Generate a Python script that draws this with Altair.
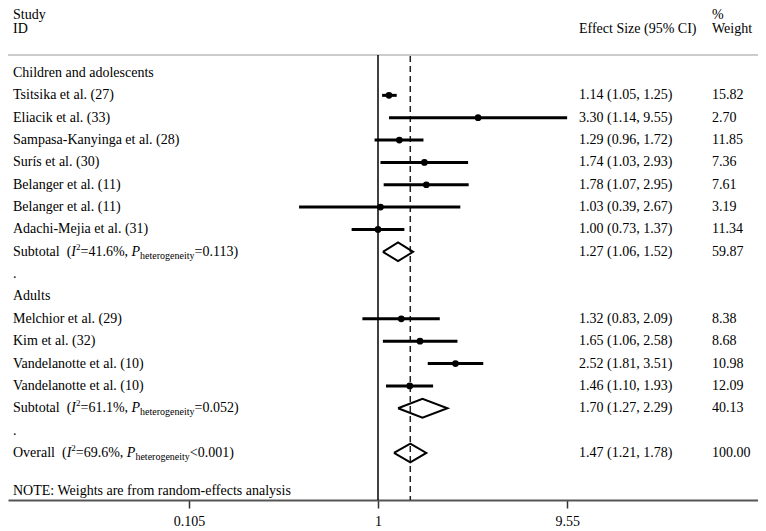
import altair as alt
import pandas as pd

# ---------------- data ----------------
study_labels = ["Tsitsika et al. (27)", "Eliacik et al. (33)", "Sampasa-Kanyinga et al. (28)",
                "Surís et al. (30)", "Belanger et al. (11)", "Belanger et al. (11)",
                "Adachi-Mejia et al. (31)", "Melchior et al. (29)", "Kim et al. (32)",
                "Vandelanotte et al. (10)", "Vandelanotte et al. (10)"]
study_rows = [1, 2, 3, 4, 5, 6, 7, 11, 12, 13, 14]
study_es = [1.14, 3.30, 1.29, 1.74, 1.78, 1.03, 1.00, 1.32, 1.65, 2.52, 1.46]
study_lcl = [1.05, 1.14, 0.96, 1.03, 1.07, 0.39, 0.73, 0.83, 1.06, 1.81, 1.10]
study_ucl = [1.25, 9.55, 1.72, 2.93, 2.95, 2.67, 1.37, 2.09, 2.58, 3.51, 1.93]
study_wt = [15.82, 2.70, 11.85, 7.36, 7.61, 3.19, 11.34, 8.38, 8.68, 10.98, 12.09]

group_labels = ["Children and adolescents", "Adults"]
group_rows = [0, 10]

pooled_names = ["Subtotal", "Subtotal", "Overall"]
pooled_rows = [8, 15, 17]
pooled_es = [1.27, 1.70, 1.47]
pooled_lcl = [1.06, 1.27, 1.21]
pooled_ucl = [1.52, 2.29, 1.78]
pooled_wt = [59.87, 40.13, 100.00]
pooled_i2 = ["41.6", "61.1", "69.6"]
pooled_psym = ["=", "=", "<"]
pooled_p = ["0.113", "0.052", "0.001"]

dot_rows = [9, 16]
tick_values = [0.105, 1, 9.55]
null_value = [1]
overall_value = [1.47]

note_text = "NOTE: Weights are from random-effects analysis"

FONT = "Liberation Serif"
W, H = 750, 492
LEFT_X = 5
ES_X = 571
WT_X = 704

# Times metrics (Liberation Serif is metric compatible)
TR = {' ': 250, '(': 333, ')': 333, '=': 564, '<': 564, '%': 833, ',': 250, '.': 250,
      'S': 556, 'O': 722, 'u': 500, 'b': 500, 't': 278, 'o': 500, 'a': 444, 'l': 278,
      'v': 500, 'e': 444, 'r': 333, 'h': 500, 'g': 500, 'n': 500, 'i': 278, 'y': 500, 'c': 444}
TI = {'I': 333, 'P': 611}


def tw(s, size, table=TR):
    return sum(table.get(ch, 500) for ch in s) * size / 1000.0


# ---------------- tables ----------------
studies = pd.DataFrame({
    "row": study_rows, "label": study_labels, "es": study_es,
    "lo": study_lcl, "hi": study_ucl,
})
studies["est_txt"] = [f"{e:.2f} ({l:.2f}, {h:.2f})" for e, l, h in zip(study_es, study_lcl, study_ucl)]
studies["wt_txt"] = [f"{w:.2f}" for w in study_wt]

pooled = pd.DataFrame({"row": pooled_rows, "es": pooled_es, "lo": pooled_lcl, "hi": pooled_ucl})
pooled["est_txt"] = [f"{e:.2f} ({l:.2f}, {h:.2f})" for e, l, h in zip(pooled_es, pooled_lcl, pooled_ucl)]
pooled["wt_txt"] = [f"{w:.2f}" for w in pooled_wt]

# diamond outlines
dia = []
for r, e, l, h in zip(pooled_rows, pooled_es, pooled_lcl, pooled_ucl):
    hh = 0.42
    pts = [(l, r), (e, r - hh), (h, r), (e, r + hh), (l, r)]
    for k, (xv, yv) in enumerate(pts):
        dia.append({"grp": r, "ord": k, "x": xv, "y": yv})
dia = pd.DataFrame(dia)

# rich-text pieces (pixel x computed from font metrics)
reg, ital, sup, sub = [], [], [], []
for r, name, i2, sym, p in zip(pooled_rows, pooled_names, pooled_i2, pooled_psym, pooled_p):
    x = LEFT_X
    reg.append({"x": x, "row": r, "text": name}); x += tw(name + "  ", 14)
    reg.append({"x": x, "row": r, "text": "("}); x += tw("(", 14)
    ital.append({"x": x, "row": r, "text": "I"}); x += tw("I", 14, TI)
    sup.append({"x": x, "row": r, "text": "2"}); x += tw("2", 9)
    s = f"={i2}%, "
    reg.append({"x": x, "row": r, "text": s.strip()}); x += tw(s, 14)
    ital.append({"x": x, "row": r, "text": "P"}); x += tw("P", 14, TI)
    sub.append({"x": x, "row": r, "text": "heterogeneity"}); x += tw("heterogeneity", 10)
    reg.append({"x": x, "row": r, "text": f"{sym}{p})"})

left_labels = pd.DataFrame({
    "row": study_rows + group_rows + dot_rows + [18.70],
    "text": study_labels + group_labels + ["."] * len(dot_rows) + [note_text],
})
headers = pd.DataFrame({
    "row": [-2.6, -1.95, -1.95, -2.6, -1.95],
    "text": ["Study", "ID", "Effect Size (95% CI)", "%", "Weight"],
    "x": [LEFT_X, LEFT_X, ES_X, WT_X, WT_X],
})

# ---------------- scales ----------------
px_per_dec = 193.0
x_one = 370.0
lo_dom = 10 ** (-x_one / px_per_dec)
hi_dom = 10 ** ((W - x_one) / px_per_dec)
xs = alt.Scale(type="log", domain=[lo_dom, hi_dom], nice=False)
ys = alt.Scale(domain=[-2.908, 19.105], reverse=True, nice=False, zero=False)

x_axis = alt.Axis(values=tick_values, format="~g", title=None, grid=False,
                  domainColor="#555555", domainWidth=2, tickColor="#333333",
                  tickWidth=1.5, tickSize=8, labelFont=FONT, labelFontSize=14,
                  labelColor="black", labelPadding=6, labelFlush=False)

ci = alt.Chart(studies).mark_rule(strokeWidth=3, color="black").encode(
    x=alt.X("lo:Q", scale=xs, axis=x_axis),
    x2="hi:Q",
    y=alt.Y("row:Q", scale=ys, axis=None),
)
points = alt.Chart(studies).mark_point(filled=True, shape="circle", size=45,
                                       color="black", opacity=1).encode(
    x=alt.X("es:Q", scale=xs), y=alt.Y("row:Q", scale=ys))

diamonds = alt.Chart(dia).mark_line(color="black", strokeWidth=2, strokeJoin="miter").encode(
    x=alt.X("x:Q", scale=xs), y=alt.Y("y:Q", scale=ys),
    order="ord:Q", detail="grp:N")

top_line = alt.Chart(pd.DataFrame({"a": [0]})).mark_rule(color="#bbbbbb", strokeWidth=1.5).encode(
    x=alt.value(0), x2=alt.value(W), y=alt.value(47))

null_line = alt.Chart(pd.DataFrame({"v": null_value})).mark_rule(color="black", strokeWidth=1.5).encode(
    x=alt.X("v:Q", scale=xs), y=alt.value(47), y2=alt.value(H))
overall_line = alt.Chart(pd.DataFrame({"v": overall_value})).mark_rule(
    color="#222222", strokeWidth=1.5, strokeDash=[6, 4]).encode(
    x=alt.X("v:Q", scale=xs), y=alt.value(48), y2=alt.value(H))


def txt(df, xenc, **kw):
    base = dict(font=FONT, fontSize=14, align="left", baseline="middle", color="black")
    base.update(kw)
    return alt.Chart(df).mark_text(**base).encode(
        x=xenc, y=alt.Y("row:Q", scale=ys), text="text:N")


xfield = alt.X("x:Q", scale=None, axis=None)

t_left = txt(left_labels, alt.value(LEFT_X))
t_head = txt(headers, xfield)
t_es = alt.Chart(pd.concat([studies, pooled])).mark_text(
    font=FONT, fontSize=14, align="left", baseline="middle", color="black").encode(
    x=alt.value(ES_X), y=alt.Y("row:Q", scale=ys), text="est_txt:N")
t_wt = alt.Chart(pd.concat([studies, pooled])).mark_text(
    font=FONT, fontSize=14, align="left", baseline="middle", color="black").encode(
    x=alt.value(WT_X), y=alt.Y("row:Q", scale=ys), text="wt_txt:N")
t_reg = txt(pd.DataFrame(reg), xfield)
t_ital = txt(pd.DataFrame(ital), xfield, fontStyle="italic")
t_sup = txt(pd.DataFrame(sup), xfield, fontSize=9, dy=-5)
t_sub = txt(pd.DataFrame(sub), xfield, fontSize=10, dy=4)

chart = alt.layer(
    top_line, null_line, overall_line, ci, points, diamonds,
    t_left, t_head, t_es, t_wt, t_reg, t_ital, t_sup, t_sub,
).properties(
    width=W, height=H, autosize="none",
    padding={"left": 0, "top": 0, "right": 0, "bottom": 31},
    background="white",
).configure_view(stroke=None)

chart.save("out.html", embed_options={"renderer": "svg", "actions": False})
